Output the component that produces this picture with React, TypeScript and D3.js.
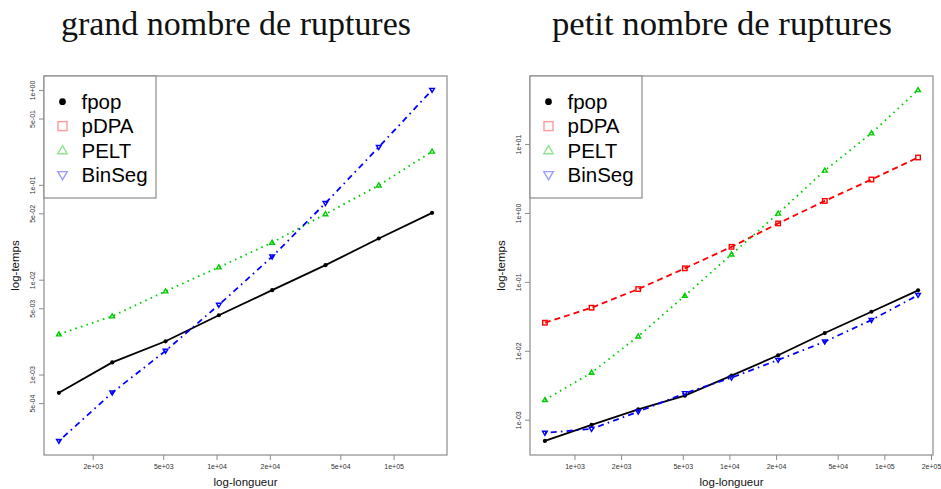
import React from 'react';
import { scaleLog, line, extent } from 'd3';

// longueurs des signaux (doublement)
const lengthsLeft = [1280, 2560, 5120, 10240, 20480, 40960, 81920, 163840];
const lengthsRight = [640, 1280, 2560, 5120, 10240, 20480, 40960, 81920, 163840];

// grand nombre de ruptures (secondes)
const fpopLeft = [6.5e-4, 1.36e-3, 2.27e-3, 4.27e-3, 7.85e-3, 1.44e-2, 2.75e-2, 5.13e-2];
const peltLeft = [2.69e-3, 4.17e-3, 7.65e-3, 1.37e-2, 2.49e-2, 4.97e-2, 1.0e-1, 0.227];
const binsegLeft = [2.02e-4, 6.52e-4, 1.8e-3, 5.49e-3, 1.77e-2, 6.49e-2, 0.253, 1.01];

// petit nombre de ruptures (secondes)
const fpopRight = [5.0e-4, 8.55e-4, 1.44e-3, 2.27e-3, 4.43e-3, 8.75e-3, 1.84e-2, 3.75e-2, 7.66e-2];
const pdpaRight = [2.6e-2, 4.29e-2, 8.0e-2, 0.16, 0.328, 0.717, 1.52, 3.11, 6.49];
const peltRight = [1.97e-3, 4.9e-3, 1.65e-2, 6.4e-2, 0.255, 1.0, 4.2, 14.6, 61.8];
const binsegRight = [6.55e-4, 7.48e-4, 1.33e-3, 2.46e-3, 4.14e-3, 7.48e-3, 1.38e-2, 2.84e-2, 6.55e-2];

const xTicksLeft = [2e3, 5e3, 1e4, 2e4, 5e4, 1e5];
const yTicksLeft = [5e-4, 1e-3, 5e-3, 1e-2, 5e-2, 1e-1, 5e-1, 1];
const xTicksRight = [1e3, 2e3, 5e3, 1e4, 2e4, 5e4, 1e5, 2e5];
const yTicksRight = [1e-3, 1e-2, 1e-1, 1, 10];

const legendNames = ['fpop', 'pDPA', 'PELT', 'BinSeg'];
const titles = ['grand nombre de ruptures', 'petit nombre de ruptures'];

const width = 941;
const height = 489;
const sans = 'Liberation Sans, Arial, sans-serif';

const styles: Record<string, { color: string; pale: string; dash: string; shape: string }> = {
  fpop: { color: '#000000', pale: '#000000', dash: '', shape: 'dot' },
  pDPA: { color: '#ff0000', pale: '#ff9a9a', dash: '6,4', shape: 'square' },
  PELT: { color: '#00cd00', pale: '#8fe68f', dash: '1.6,4.2', shape: 'up' },
  BinSeg: { color: '#0000ff', pale: '#9a9aff', dash: '1.6,4.2,6,4.2', shape: 'down' },
};

// format R: 1e+03, 5e-04
const fmt = (v: number) => {
  const e = Math.floor(Math.log10(v) + 1e-9);
  const m = Math.round(v / Math.pow(10, e));
  const s = e < 0 ? '-' : '+';
  return `${m}e${s}${String(Math.abs(e)).padStart(2, '0')}`;
};

// domaine log avec 4% de marge comme R
const padLog = (vals: number[]) => {
  const [a, b] = extent(vals) as [number, number];
  const la = Math.log10(a), lb = Math.log10(b);
  const p = (lb - la) * 0.04;
  return [Math.pow(10, la - p), Math.pow(10, lb + p)];
};

const Marker = ({ shape, x, y, color, size }: any) => {
  if (shape === 'dot') return <circle cx={x} cy={y} r={size * 0.42} fill={color} />;
  if (shape === 'square')
    return <rect x={x - size / 2} y={y - size / 2} width={size} height={size} fill="none" stroke={color} strokeWidth={1.4} />;
  const h = size * 0.9;
  const w = size * 1.05;
  const pts =
    shape === 'up'
      ? `${x},${y - h * 0.6} ${x - w / 2},${y + h * 0.4} ${x + w / 2},${y + h * 0.4}`
      : `${x},${y + h * 0.6} ${x - w / 2},${y - h * 0.4} ${x + w / 2},${y - h * 0.4}`;
  return <polygon points={pts} fill="none" stroke={color} strokeWidth={1.4} />;
};

const Panel = ({ left, lengths, series, xTicks, yTicks, title, titleX, titleW }: any) => {
  const top = 76;
  const bottom = 455;
  const right = left + 403;
  const allY = series.flatMap((s: any) => s.values);
  const x = scaleLog().domain(padLog(lengths)).range([left, right]);
  const y = scaleLog().domain(padLog(allY)).range([bottom, top]);
  const gen = line<[number, number]>()
    .x(d => x(d[0]))
    .y(d => y(d[1]));

  return (
    <g>
      <text
        x={titleX}
        y={35}
        textAnchor="middle"
        fontFamily="Liberation Serif, serif"
        fontSize={31}
        textLength={titleW}
        lengthAdjust="spacingAndGlyphs"
        transform={`translate(0, ${35}) scale(1, 1.12) translate(0, ${-35})`}
        fill="#111"
      >
        {title}
      </text>

      {series.map((s: any) => {
        const st = styles[s.name];
        const pts = lengths.map((l: number, i: number) => [l, s.values[i]] as [number, number]);
        return (
          <g key={s.name}>
            <path d={gen(pts) || ''} fill="none" stroke={st.color} strokeWidth={1.8} strokeDasharray={st.dash} />
            {pts.map((p: [number, number], i: number) => (
              <Marker key={i} shape={st.shape} x={x(p[0])} y={y(p[1])} color={st.color} size={st.shape === 'dot' ? 5 : 4.5} />
            ))}
          </g>
        );
      })}

      <rect x={left} y={top} width={right - left} height={bottom - top} fill="none" stroke="#8c8c8c" strokeWidth={1.2} />

      {xTicks.map((t: number) => (
        <g key={t} transform={`translate(${x(t)}, ${bottom})`}>
          <line y2={5} stroke="#8c8c8c" />
          <text y={14} textAnchor="middle" fontFamily={sans} fontSize={7} fill="#333">
            {fmt(t)}
          </text>
        </g>
      ))}
      {yTicks.map((t: number) => (
        <g key={t} transform={`translate(${left}, ${y(t)})`}>
          <line x2={-5} stroke="#8c8c8c" />
          <text transform="translate(-9, 0) rotate(-90)" textAnchor="middle" fontFamily={sans} fontSize={7} fill="#333">
            {fmt(t)}
          </text>
        </g>
      ))}

      <text x={(left + right) / 2} y={486} textAnchor="middle" fontFamily={sans} fontSize={11.5} fill="#111">
        log-longueur
      </text>
      <text
        transform={`translate(${left - 25}, ${(top + bottom) / 2}) rotate(-90)`}
        textAnchor="middle"
        fontFamily={sans}
        fontSize={11.5}
        fill="#111"
      >
        log-temps
      </text>

      <g>
        <rect x={left} y={top} width={112} height={122} fill="#fff" stroke="#8c8c8c" strokeWidth={1.2} />
        {legendNames.map((n, i) => {
          const st = styles[n];
          const cy = 101.7 + i * 24.4;
          return (
            <g key={n}>
              <Marker shape={st.shape} x={left + 18.5} y={cy} color={st.pale} size={st.shape === 'dot' ? 8 : 9} />
              <text x={left + 37.5} y={cy + 7} fontFamily={sans} fontSize={20.5} fill="#000">
                {n}
              </text>
            </g>
          );
        })}
      </g>
    </g>
  );
};

export default function App() {
  const leftSeries = [
    { name: 'fpop', values: fpopLeft },
    { name: 'PELT', values: peltLeft },
    { name: 'BinSeg', values: binsegLeft },
  ];
  const rightSeries = [
    { name: 'fpop', values: fpopRight },
    { name: 'pDPA', values: pdpaRight },
    { name: 'PELT', values: peltRight },
    { name: 'BinSeg', values: binsegRight },
  ];
  return (
    <svg width={width} height={height} style={{ position: 'absolute', left: 0, top: 0, background: '#fff' }}>
      <Panel left={44} lengths={lengthsLeft} series={leftSeries} xTicks={xTicksLeft} yTicks={yTicksLeft} title={titles[0]} titleX={236} titleW={350} />
      <Panel left={530} lengths={lengthsRight} series={rightSeries} xTicks={xTicksRight} yTicks={yTicksRight} title={titles[1]} titleX={722} titleW={340} />
    </svg>
  );
}
